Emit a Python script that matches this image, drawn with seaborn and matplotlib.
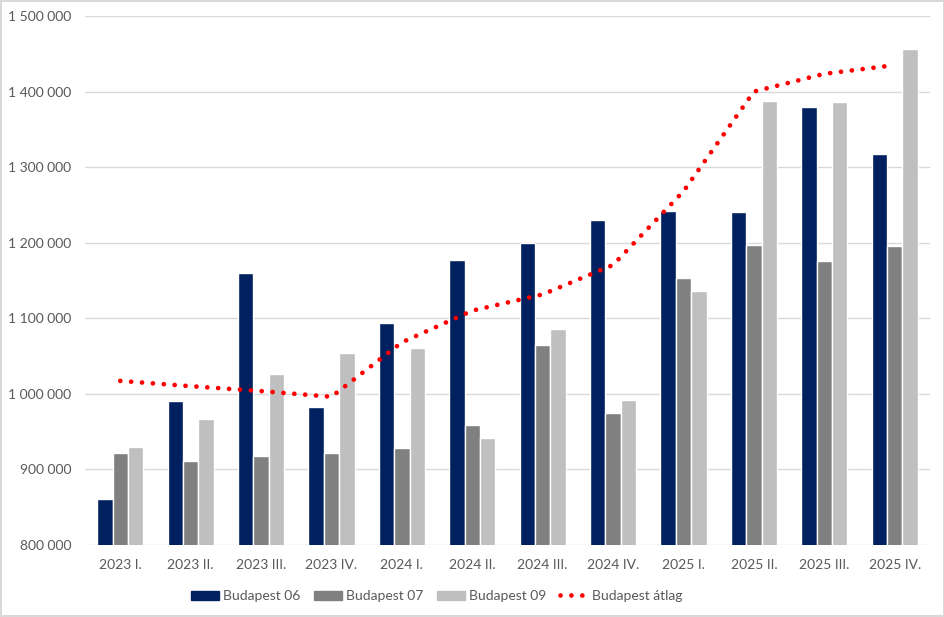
import numpy as np
import pandas as pd
import matplotlib
matplotlib.use('Agg')
import matplotlib.pyplot as plt
import seaborn as sns
from matplotlib.patches import Patch
from matplotlib.lines import Line2D
from matplotlib.ticker import FuncFormatter, MultipleLocator

# Adatok (negyedévek)
quarters = ['2023 I.', '2023 II.', '2023 III.', '2023 IV.',
            '2024 I.', '2024 II.', '2024 III.', '2024 IV.',
            '2025 I.', '2025 II.', '2025 III.', '2025 IV.']
bp06 = [860500, 990500, 1159500, 982000, 1094000, 1177000,
        1199000, 1229500, 1242000, 1240000, 1379500, 1317500]
bp07 = [921500, 910500, 918000, 921500, 927500, 958500,
        1064000, 974000, 1153500, 1196500, 1175500, 1195500]
bp09 = [929000, 966000, 1025500, 1053500, 1060000, 942000,
        1086000, 992000, 1135500, 1388000, 1386000, 1456500]
atlag = [1017000, 1010000, 1003500, 996000, 1068000, 1110000,
         1131500, 1170500, 1268000, 1400000, 1423500, 1435000]
series = ['Budapest 06', 'Budapest 07', 'Budapest 09']
colors = ['#002060', '#808080', '#BFBFBF']

sns.set_theme(style='white')
plt.rcParams['font.family'] = ['Lato', 'DejaVu Sans']

df = pd.DataFrame({
    'quarter': quarters * 3,
    'value': bp06 + bp07 + bp09,
    'series': sum([[s] * len(quarters) for s in series], []),
})

fig = plt.figure(figsize=(9.45, 6.17), dpi=100)
fig.patch.set_edgecolor('#D9D9D9')
fig.patch.set_linewidth(1.5)
ax = fig.add_axes([0.09, 0.117, 0.894, 0.857])

sns.barplot(data=df, x='quarter', y='value', hue='series', order=quarters,
            hue_order=series, palette=colors, width=0.655, gap=0,
            saturation=1, ax=ax, legend=False)

sns.lineplot(x=np.arange(len(quarters)), y=atlag, ax=ax, color='#FF0000',
             lw=3.4, linestyle=(0, (0.01, 2.3)), dash_capstyle='round')

ax.set_ylim(800000, 1500000)
ax.set_xlim(-0.5, len(quarters) - 0.5)
ax.yaxis.set_major_locator(MultipleLocator(100000))
ax.yaxis.set_major_formatter(FuncFormatter(lambda v, p: f'{int(v):,}'.replace(',', ' ')))
ax.grid(axis='y', color='#D9D9D9', lw=1)
ax.set_axisbelow(True)
for s in ax.spines.values():
    s.set_visible(False)
ax.set_xlabel('')
ax.set_ylabel('')
ax.tick_params(axis='both', length=0, colors='#595959', labelsize=10)
ax.tick_params(axis='y', pad=10)
ax.tick_params(axis='x', pad=10)

handles = [Patch(color=c) for c in colors]
handles.append(Line2D([], [], color='#FF0000', lw=3.4, linestyle=(0, (0.01, 2.3)),
                      dash_capstyle='round'))
fig.legend(handles, series + ['Budapest átlag'], loc='center', ncol=4,
           bbox_to_anchor=(0.462, 0.034), frameon=False, fontsize=10,
           labelcolor='#595959', handlelength=2.0, handleheight=0.6,
           handletextpad=0.3, columnspacing=1.0)

fig.savefig('out.png', dpi=100)
